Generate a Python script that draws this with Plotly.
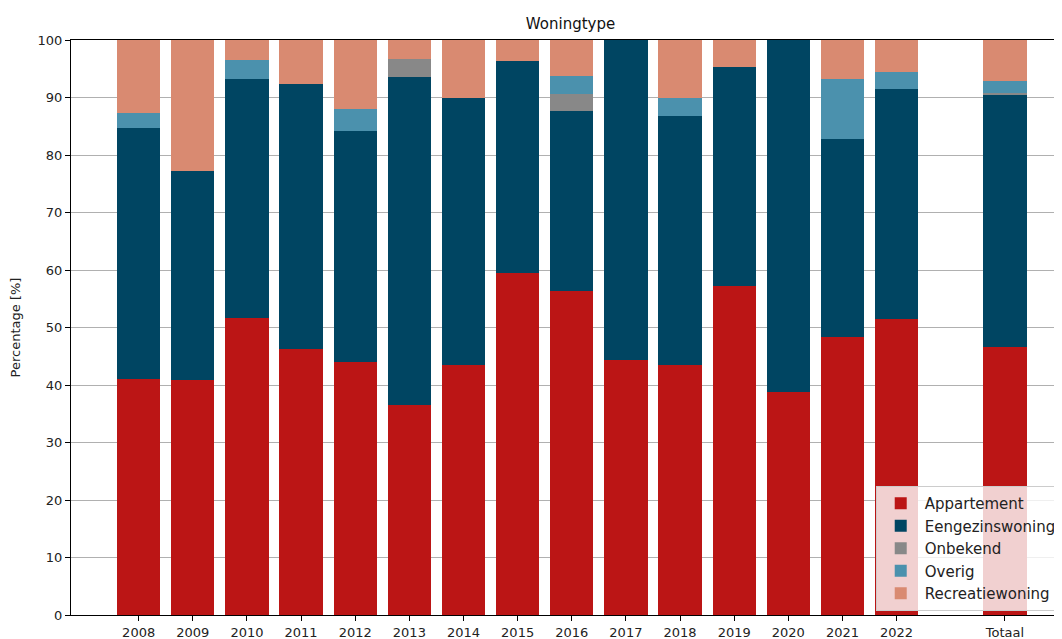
import plotly.graph_objects as go

categories = ["2008", "2009", "2010", "2011", "2012", "2013", "2014", "2015",
              "2016", "2017", "2018", "2019", "2020", "2021", "2022", "Totaal"]

appartement     = [41.0, 40.9, 51.7, 46.2, 44.0, 36.6, 43.4, 59.4, 56.3, 44.4, 43.4, 57.3, 38.7, 48.3, 51.5, 46.6]
eengezinswoning = [43.7, 36.4, 41.5, 46.1, 40.1, 56.9, 46.6, 37.0, 31.3, 55.6, 43.3, 38.0, 61.3, 34.5, 40.0, 44.0]
onbekend        = [0.0, 0.0, 0.0, 0.0, 0.0, 3.2, 0.0, 0.0, 3.0, 0.0, 0.0, 0.0, 0.0, 0.0, 0.0, 0.2]
overig          = [2.6, 0.0, 3.4, 0.0, 3.9, 0.0, 0.0, 0.0, 3.2, 0.0, 3.2, 0.0, 0.0, 10.5, 2.9, 2.1]
recreatiewoning = [12.7, 22.7, 3.4, 7.7, 12.0, 3.3, 10.0, 3.6, 6.2, 0.0, 10.1, 4.7, 0.0, 6.7, 5.6, 7.1]

series = [
    ("Appartement", appartement, "#BB1515"),
    ("Eengezinswoning", eengezinswoning, "#004562"),
    ("Onbekend", onbekend, "#888888"),
    ("Overig", overig, "#4B91AD"),
    ("Recreatiewoning", recreatiewoning, "#D98A71"),
]

# years at consecutive positions, the total one slot further
positions = list(range(len(categories) - 1)) + [len(categories)]

fig = go.Figure()
for name, vals, color in series:
    fig.add_trace(go.Bar(
        x=positions, y=vals, name=name, width=0.8,
        marker=dict(color=color, line=dict(width=0)),
    ))

W, H = 1054, 631
font = "DejaVu Sans, sans-serif"
fig.update_layout(
    width=W, height=H,
    barmode="stack",
    plot_bgcolor="white", paper_bgcolor="white",
    margin=dict(l=63, r=0, t=32, b=24),
    font=dict(family=font, size=13, color="#222222"),
    title=dict(text="Woningtype", x=(63 + 1062) / 2 / W, xanchor="center",
               y=1 - 16 / H, yanchor="middle", font=dict(size=15, color="#111111")),
    showlegend=True,
    legend=dict(
        x=0.8145, y=0.007, xanchor="left", yanchor="bottom",
        traceorder="normal",
        bgcolor="rgba(255,255,255,0.8)", bordercolor="#cccccc", borderwidth=1,
        font=dict(size=15, color="#222222"),
        itemwidth=38,
    ),
    bargap=0,
)
fig.update_xaxes(
    range=[-1.25, 17.0],
    tickmode="array", tickvals=positions, ticktext=categories,
    showgrid=True, gridcolor="#b0b0b0", gridwidth=1,
    showline=True, linecolor="black", linewidth=1, mirror=True,
    ticks="outside", ticklen=5, tickcolor="black",
    layer="above traces", zeroline=False,
    tickfont=dict(size=13),
)
fig.update_yaxes(
    range=[0, 100], tickmode="linear", tick0=0, dtick=10,
    showgrid=True, gridcolor="#b0b0b0", gridwidth=1,
    showline=True, linecolor="black", linewidth=1,
    ticks="outside", ticklen=5, tickcolor="black",
    layer="above traces", zeroline=False,
    title=dict(text="Percentage [%]", font=dict(size=13), standoff=14),
    tickfont=dict(size=13),
)

fig.write_html("out.html")
